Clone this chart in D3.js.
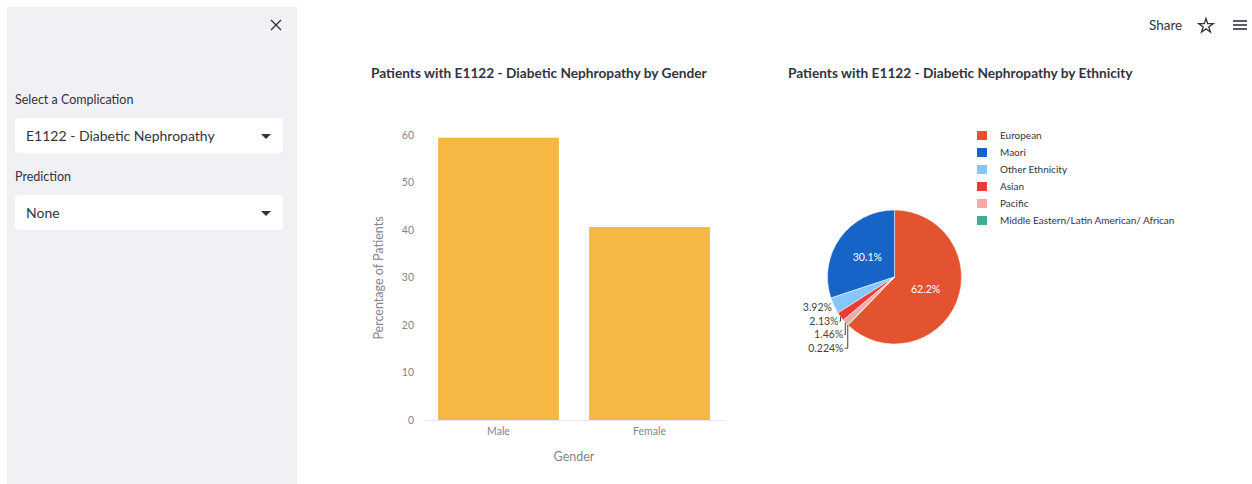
<!DOCTYPE html>
<html>
<head>
<meta charset="utf-8">
<script src="https://cdn.jsdelivr.net/npm/d3@7"></script>
<style>
  body { margin: 0; background: #fff; font-family: Lato, "Open Sans", sans-serif; }
  svg { display: block; }
</style>
</head>
<body>
<svg width="1252" height="484"></svg>
<script>
// data
var genders = ["Male", "Female"];
var genderPct = [59.4, 40.6];
var yTicks = [0, 10, 20, 30, 40, 50, 60];

var ethnicities = ["European", "Maori", "Other Ethnicity", "Asian", "Pacific", "Middle Eastern/Latin American/ African"];
var ethnicPct = [62.2, 30.1, 3.92, 2.13, 1.46, 0.224];
var ethnicLabels = ["62.2%", "30.1%", "3.92%", "2.13%", "1.46%", "0.224%"];
var ethnicColors = ["#e4532f", "#1664c8", "#84c7fb", "#ee3a35", "#f5a9a9", "#45ab95"];

var complication = "E1122 - Diabetic Nephropathy";
var prediction = "None";

var svg = d3.select("svg");
var textColor = "#31333f";
var axisColor = "#808495";

// ---- sidebar ----
var side = svg.append("g");
side.append("rect").attr("x", 7).attr("y", 7).attr("width", 290).attr("height", 477).attr("fill", "#f0f0f5");

side.append("path")
    .attr("d", "M271,20L281,30M281,20L271,30")
    .attr("stroke", textColor).attr("stroke-width", 1.4).attr("fill", "none");

function selectBox(label, value, y) {
    side.append("text").attr("x", 15).attr("y", y - 14).text(label)
        .attr("font-size", 12.5).attr("fill", textColor);
    side.append("rect").attr("x", 15).attr("y", y).attr("width", 268).attr("height", 35)
        .attr("rx", 4).attr("fill", "#fff");
    side.append("text").attr("x", 26).attr("y", y + 22.5).text(value)
        .attr("font-size", 14).attr("fill", textColor);
    side.append("path")
        .attr("d", "M261," + (y + 16) + "L271," + (y + 16) + "L266," + (y + 21) + "Z")
        .attr("fill", textColor);
}
selectBox("Select a Complication", complication, 118);
selectBox("Prediction", prediction, 195);

// ---- header ----
svg.append("text").attr("x", 1149).attr("y", 30).text("Share")
    .attr("font-size", 13.5).attr("fill", textColor);
var star = d3.symbol().type(d3.symbolStar).size(65);
svg.append("path").attr("d", star()).attr("transform", "translate(1206,26)")
    .attr("fill", "none").attr("stroke", textColor).attr("stroke-width", 1.3);
[-4, 0, 4].forEach(function (dy) {
    svg.append("line").attr("x1", 1233).attr("x2", 1247).attr("y1", 25 + dy).attr("y2", 25 + dy)
        .attr("stroke", textColor).attr("stroke-width", 1.6);
});

// ---- bar chart ----
svg.append("text").attr("x", 371).attr("y", 78)
    .text("Patients with " + complication + " by Gender")
    .attr("font-size", 13.7).attr("font-weight", "bold").attr("fill", textColor);

var x = d3.scaleBand().domain(genders).range([423, 725]).paddingInner(0.2).paddingOuter(0.1);
var y = d3.scaleLinear().domain([0, 62.5]).range([420, 123]);

svg.append("g").selectAll("rect")
    .data(genders)
    .enter()
    .append("rect")
    .attr("x", function (d) { return x(d); })
    .attr("width", x.bandwidth())
    .attr("y", function (d, i) { return y(genderPct[i]); })
    .attr("height", function (d, i) { return y(0) - y(genderPct[i]); })
    .attr("fill", "#f6b843");

var yAxis = svg.append("g").attr("transform", "translate(423,0)")
    .call(d3.axisLeft(y).tickValues(yTicks).tickSize(0).tickPadding(9));
yAxis.select(".domain").remove();
yAxis.selectAll("text").attr("fill", axisColor).attr("font-size", 10.5).attr("font-family", "Lato, sans-serif");

var xAxis = svg.append("g").attr("transform", "translate(0,420)")
    .call(d3.axisBottom(x).tickSize(0).tickPadding(8));
xAxis.select(".domain").attr("stroke", "#e6e6ef");
xAxis.selectAll("text").attr("fill", axisColor).attr("font-size", 10.5).attr("font-family", "Lato, sans-serif");

svg.append("text").attr("transform", "translate(383,278) rotate(-90)")
    .attr("text-anchor", "middle").text("Percentage of Patients")
    .attr("font-size", 12.5).attr("fill", axisColor);
svg.append("text").attr("x", 574).attr("y", 461).attr("text-anchor", "middle").text("Gender")
    .attr("font-size", 12.5).attr("fill", axisColor);

// ---- pie chart ----
svg.append("text").attr("x", 788).attr("y", 78)
    .text("Patients with " + complication + " by Ethnicity")
    .attr("font-size", 13.7).attr("font-weight", "bold").attr("fill", textColor);

var cx = 894.5, cy = 277, r = 67;
var total = d3.sum(ethnicPct);
var a0 = 2 * Math.PI * ethnicPct[0] / total;
var pie = d3.pie().sort(null).startAngle(a0).endAngle(a0 - 2 * Math.PI);
var arcs = pie(ethnicPct);
var arc = d3.arc().innerRadius(0).outerRadius(r);

var pg = svg.append("g").attr("transform", "translate(" + cx + "," + cy + ")");
pg.selectAll("path")
    .data(arcs)
    .enter()
    .append("path")
    .attr("d", arc)
    .attr("fill", function (d, i) { return ethnicColors[i]; })
    .attr("stroke", "#fff").attr("stroke-width", 0.5);

// inside labels for big slices, outside stacked labels for small ones
var outside = [];
arcs.forEach(function (d, i) {
    var frac = d.value / total;
    if (frac > 0.1) {
        var c = arc.centroid(d);
        pg.append("text").attr("x", c[0]).attr("y", c[1] + 3.5).attr("text-anchor", "middle")
            .text(ethnicLabels[i]).attr("font-size", 10.5).attr("fill", "#fff");
    } else {
        var m = (d.startAngle + d.endAngle) / 2;
        outside.push({ i: i, px: r * Math.sin(m), py: -r * Math.cos(m) });
    }
});
outside.sort(function (a, b) { return a.py - b.py; });
var prevY = -Infinity;
outside.forEach(function (o) {
    var ly = Math.max(o.py + 2, prevY + 13.5);
    prevY = ly;
    var lx = Math.min(o.px - 2, -51);
    pg.append("text").attr("x", lx).attr("y", ly + 3.5).attr("text-anchor", "end")
        .text(ethnicLabels[o.i]).attr("font-size", 10.5).attr("fill", "#444");
    if (ly - o.py > 3) {
        pg.append("path")
            .attr("d", "M" + (lx + 1) + "," + ly + "L" + (o.px) + "," + ly + "L" + o.px + "," + o.py)
            .attr("fill", "none").attr("stroke", "#444").attr("stroke-width", 1);
    }
});

// legend
var lg = svg.append("g").attr("transform", "translate(977,131)");
var rows = lg.selectAll("g")
    .data(ethnicities)
    .enter()
    .append("g")
    .attr("transform", function (d, i) { return "translate(0," + i * 17 + ")"; });
rows.append("rect").attr("width", 10).attr("height", 9)
    .attr("fill", function (d, i) { return ethnicColors[i]; });
rows.append("text").attr("x", 23).attr("y", 8).text(function (d) { return d; })
    .attr("font-size", 10).attr("fill", textColor);
</script>
</body>
</html>
